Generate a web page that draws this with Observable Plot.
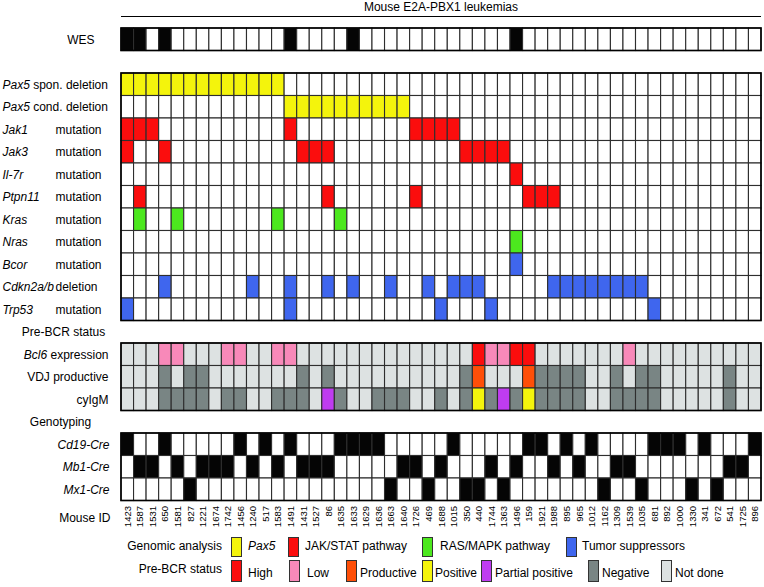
<!DOCTYPE html>
<html><head><meta charset="utf-8">
<script src="https://cdn.jsdelivr.net/npm/d3@7"></script>
<script src="https://cdn.jsdelivr.net/npm/@observablehq/plot@0.6"></script>
<style>
body{margin:0;background:#fff;font-family:"Liberation Sans",Arial,sans-serif;color:#000;}
#wrap{position:relative;width:764px;height:587px;overflow:hidden;}
#title{position:absolute;left:121px;top:0;width:640px;height:16px;border-bottom:1.2px solid #000;text-align:center;font-size:12px;line-height:15px;}
#chart{position:absolute;left:0;top:18px;}
.lab{position:absolute;font-size:12px;line-height:14px;white-space:nowrap;}
.sw{position:absolute;width:11px;height:20px;border:1px solid #333;box-sizing:border-box;}
</style></head>
<body><div id="wrap"><div id="title">Mouse E2A-PBX1 leukemias</div><div id="chart"></div></div>
<script>
// ---- data ----
const mouseIds = ["1423","1587","1531","650","1581","827","1221","1674","1742","1456","1240","517","1583","1491","1431","1527","86","1635","1633","1629","1636","1663","1640","1726","469","1688","1015","350","440","1744","1363","1496","159","1921","1988","895","965","1012","1162","1309","1539","1035","681","892","1000","1330","341","672","541","1725","896"];

const wesDone = ["1423","1587","650","1491","1633","1496"];

const genes = ["Pax5","Pax5","Jak1","Jak3","Il-7r","Ptpn11","Kras","Nras","Bcor","Cdkn2a/b","Trp53"];
const alterations = ["spon. deletion","cond. deletion","mutation","mutation","mutation","mutation","mutation","mutation","mutation","deletion","mutation"];
const geneGroup = ["Pax5","Pax5","JAK/STAT pathway","JAK/STAT pathway","JAK/STAT pathway","JAK/STAT pathway","RAS/MAPK pathway","RAS/MAPK pathway","Tumor suppressors","Tumor suppressors","Tumor suppressors"];
const geneHits = [
  ["1423","1587","1531","650","1581","827","1221","1674","1742","1456","1240","517","1583"],
  ["1491","1431","1527","86","1635","1633","1629","1636","1663","1640"],
  ["1423","1587","1531","1491","1726","469","1688","1015"],
  ["1423","650","1431","1527","86","350","440","1744","1363"],
  ["1496"],
  ["1587","86","1726","159","1921","1988"],
  ["1587","1581","1583","1635"],
  ["1496"],
  ["1496"],
  ["650","1240","1491","86","1633","1663","469","1015","350","440","1988","895","965","1012","1162","1309","1539","1035"],
  ["1423","1491","1688","1744","681"]
];

// Pre-BCR status codes per mouse, in mouseIds order
// H high, L low, P productive, Y positive, U partial positive, N negative, . not done
const preBcrRows = ["Bcl6 expression","VDJ productive","cyIgM"];
const bcl6  = "...LL...LL..LL..............HLLHH.......L..........";
const vdj   = "...N.NN.......N.N..........NP...PNNNN..N.NN.....N..";
const cyigm = "...NNNN.NN..NNN.UN..NNN..N.NYNUNYNNNN..NNNN.....N..";

const genotypes = ["Cd19-Cre","Mb1-Cre","Mx1-Cre"];
const cd19 = ["1423","650","1456","517","1491","1635","1633","1629","1636","1015","159","1921","895","1012","681","892","1000","341","896"];
const mb1  = ["1587","1531","1581","1221","1674","1742","1240","1583","1431","1527","86","1640","1726","1688","1744","1496","1988","965","1309","1539","541","1725"];
const mx1  = ["827","1663","469","350","440","1363","1162","1035","1330","672"];

// ---- colours ----
const groupColor = {"Pax5":"#f4f40c","JAK/STAT pathway":"#fb0d0d","RAS/MAPK pathway":"#4ce81e","Tumor suppressors":"#3f66ee"};
const statusColor = {"H":"#fb0d0d","L":"#f889b9","P":"#ff4f08","Y":"#f4f40c","U":"#bf3cf0","N":"#798584",".":"#dde2e2"};
const statusName = {"H":"High","L":"Low","P":"Productive","Y":"Positive","U":"Partial positive","N":"Negative",".":"Not done"};

// ---- build cells ----
const n = mouseIds.length;
const cells = [];
const rowIndex = {};
let r = 0;
function addRow(fn){ for(let i=0;i<n;i++) cells.push({x1:i,x2:i+1,y1:r,y2:r+1,fill:fn(mouseIds[i],i)}); r++; }
rowIndex.wes = r; addRow(id => wesDone.includes(id) ? "#050505" : "#fff");
r++; // gap
rowIndex.genomic = r;
genes.forEach((g,k) => addRow(id => geneHits[k].includes(id) ? groupColor[geneGroup[k]] : "#fff"));
r++; // gap: Pre-BCR status
rowIndex.pre = r;
[bcl6,vdj,cyigm].forEach(s => addRow((id,i) => statusColor[s[i]]));
r++; // gap: Genotyping
rowIndex.geno = r;
[cd19,mb1,mx1].forEach(list => addRow(id => list.includes(id) ? "#050505" : "#fff"));
const nRows = r;

const blocks = [
  {y1:rowIndex.wes, y2:rowIndex.wes+1},
  {y1:rowIndex.genomic, y2:rowIndex.genomic+genes.length},
  {y1:rowIndex.pre, y2:rowIndex.pre+preBcrRows.length},
  {y1:rowIndex.geno, y2:rowIndex.geno+genotypes.length}
].map(b => ({...b, x1:0, x2:n}));

// ---- labels ----
const ff = "Liberation Sans, Arial, sans-serif";
const font = {fontSize:12, fontFamily:ff};
const geneLabels = genes.map((g,k)=>({y:rowIndex.genomic+k+0.5, g, a:alterations[k], full:g+" "+alterations[k]}));
const plain = geneLabels.filter(d=>d.g!=="Pax5");
const pax = geneLabels.filter(d=>d.g==="Pax5");
const mixed = {};
pax.forEach(d=>mixed[d.full]=[d.g," "+d.a]);
mixed["Bcl6 expression"] = ["Bcl6"," expression"];

const chart = Plot.plot({
  width:764, height:527,
  marginLeft:121, marginRight:3, marginTop:10, marginBottom:44.5,
  x:{domain:[0,n], axis:null},
  y:{domain:[0,nRows], reverse:true, axis:null},
  marks:[
    Plot.rect(cells,{x1:"x1",x2:"x2",y1:"y1",y2:"y2",fill:"fill",stroke:"#2e2e2e",strokeWidth:1.1}),
    Plot.rect(blocks,{x1:"x1",x2:"x2",y1:"y1",y2:"y2",fill:"none",stroke:"#000",strokeWidth:1.6}),
    Plot.axisX(d3.range(n).map(i=>i+0.5),{tickFormat:v=>mouseIds[Math.floor(v)],tickRotate:-90,tickSize:0,tickPadding:5,fontSize:9.5,fontFamily:ff,label:null,anchor:"bottom"}),
    Plot.text(["WES"],{y:[rowIndex.wes+0.5],text:d=>d,frameAnchor:"left",dx:-27,textAnchor:"end",...font}),
    Plot.text(plain,{y:"y",text:"g",frameAnchor:"left",dx:-119,textAnchor:"start",fontStyle:"italic",...font}),
    Plot.text(plain,{y:"y",text:"a",frameAnchor:"left",dx:-66,textAnchor:"start",...font}),
    Plot.text(pax,{y:"y",text:"full",frameAnchor:"left",dx:-119,textAnchor:"start",...font}),
    Plot.text(["Pre-BCR status"],{y:[rowIndex.pre-0.5],text:d=>d,frameAnchor:"left",dx:-58,textAnchor:"middle",...font}),
    Plot.text(["Genotyping"],{y:[rowIndex.geno-0.5],text:d=>d,frameAnchor:"left",dx:-61,textAnchor:"middle",...font}),
    Plot.text(preBcrRows,{y:(d,i)=>rowIndex.pre+0.5+i,text:d=>d,frameAnchor:"left",dx:-13,textAnchor:"end",...font}),
    Plot.text(genotypes,{y:(d,i)=>rowIndex.geno+0.5+i,text:d=>d,frameAnchor:"left",dx:-12,textAnchor:"end",fontStyle:"italic",...font}),
    Plot.text(["Mouse ID"],{frameAnchor:"bottom-left",text:d=>d,dx:-11,dy:21,textAnchor:"end",...font})
  ]
});
// italic gene names inside mixed labels
d3.select(chart).selectAll("text").each(function(){
  const m = mixed[this.textContent];
  if(m){ const s=d3.select(this); s.text(""); s.append("tspan").attr("font-style","italic").text(m[0]); s.append("tspan").text(m[1]); }
});
document.getElementById("chart").appendChild(chart);

// ---- legend (HTML, below the plot) ----
const wrap = document.getElementById("wrap");
const legendRows = [
  {label:"Genomic analysis", top:537, items:Object.keys(groupColor).map(k=>({text:k,color:groupColor[k],italic:k==="Pax5"}))},
  {label:"Pre-BCR status", top:560, items:Object.keys(statusColor).map(k=>({text:statusName[k],color:statusColor[k],italic:false}))}
];
const legendX = [[231,288,422,566],[231,289,346,422,481,588,661]];
const textGap = [[17,17,18,16],[17,18,14,13,14,14,14]];
legendRows.forEach((row,ri)=>{
  const l = document.createElement("div");
  l.className="lab"; l.textContent=row.label;
  l.style.right=(764-222)+"px"; l.style.top=(row.top+2)+"px";
  wrap.appendChild(l);
  row.items.forEach((it,k)=>{
    const s=document.createElement("div");
    s.className="sw"; s.style.background=it.color; s.style.left=legendX[ri][k]+"px"; s.style.top=row.top+"px";
    if(ri===1) s.style.height="22px";
    wrap.appendChild(s);
    const t=document.createElement("div");
    t.className="lab"; t.textContent=it.text; if(it.italic) t.style.fontStyle="italic";
    t.style.left=(legendX[ri][k]+textGap[ri][k])+"px"; t.style.top=(row.top+(ri?6:2))+"px";
    wrap.appendChild(t);
  });
});
</script>
</body></html>
